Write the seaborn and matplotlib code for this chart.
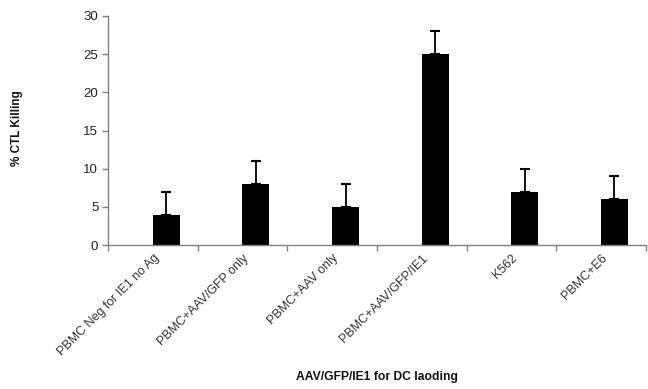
import numpy as np
import pandas as pd
import matplotlib
matplotlib.use("Agg")
import matplotlib.pyplot as plt
import seaborn as sns

# Data
conditions = [
    "PBMC Neg for IE1 no Ag",
    "PBMC+AAV/GFP only",
    "PBMC+AAV only",
    "PBMC+AAV/GFP/IE1",
    "K562",
    "PBMC+E6",
]
killing = [4, 8, 5, 25, 7, 6]
killing_err = [3, 3, 3, 3, 3, 3]

# Excel-style clustered chart: an empty first series pushes the bars right
df = pd.concat([
    pd.DataFrame({"cond": conditions, "series": "blank", "value": 0.0}),
    pd.DataFrame({"cond": conditions, "series": "CTL", "value": killing}),
])

sns.set_style("ticks")
plt.rcParams["font.family"] = ["Liberation Sans", "DejaVu Sans"]

fig = plt.figure(figsize=(6.48, 3.89), dpi=100)
ax = fig.add_axes([0.1667, 0.370, 0.830, 0.589])

sns.barplot(data=df, x="cond", y="value", hue="series",
            hue_order=["blank", "CTL"], order=conditions,
            palette={"blank": "white", "CTL": "black"},
            width=0.6, gap=0, linewidth=0, errorbar=None,
            legend=False, ax=ax)

# upper error bars only
bars = ax.containers[1]
xs = [b.get_x() + b.get_width() / 2 for b in bars]
ax.errorbar(xs, killing, yerr=[np.zeros(len(killing)), killing_err],
            fmt="none", ecolor="black", elinewidth=1.3,
            capsize=3.6, capthick=1.5, zorder=3)

ax.set_ylim(0, 30)
ax.set_yticks(np.arange(0, 31, 5))
ax.set_xlim(-0.5, len(conditions) - 0.5)

# ticks on category boundaries, labels at category centres
ax.set_xticks(np.arange(-0.5, len(conditions)), labels=[""] * (len(conditions) + 1))
ax.set_xticks(np.arange(len(conditions)), labels=conditions, minor=True)
ax.tick_params(axis="x", which="minor", length=0, pad=5)
ax.tick_params(axis="x", which="major", length=4, width=1, color="#808080")
ax.tick_params(axis="y", length=4, width=1, color="#808080", labelsize=9.5,
               labelcolor="#222222", pad=3)
for lab in ax.get_xticklabels(minor=True):
    lab.set_rotation(45)
    lab.set_ha("right")
    lab.set_rotation_mode("anchor")
    lab.set_fontsize(9)
    lab.set_color("#333333")
    lab.set_x(lab.get_position()[0] - 0.08)

for side in ["top", "right"]:
    ax.spines[side].set_visible(False)
for side in ["left", "bottom"]:
    ax.spines[side].set_color("#808080")
    ax.spines[side].set_linewidth(1)

ax.set_xlabel("")
ax.set_ylabel("")
fig.text(0.582, 0.030, "AAV/GFP/IE1 for DC laoding", ha="center", va="center",
         fontsize=8.7, fontweight="bold", color="#111111")
fig.text(0.026, 0.67, "% CTL Killing", ha="center", va="center",
         rotation=90, fontsize=8.5, fontweight="bold", color="#111111")

fig.savefig("out.png", dpi=100)
